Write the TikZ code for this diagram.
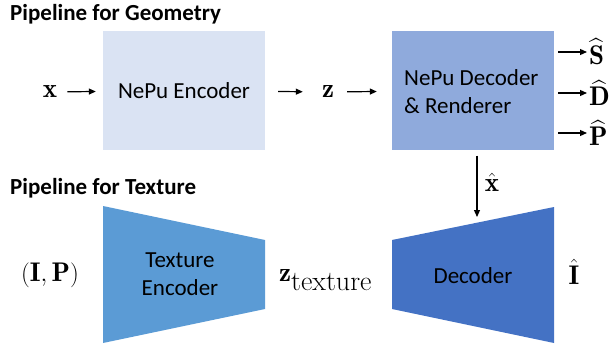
\documentclass[tikz,border=0pt]{standalone}
\usepackage{fontspec}
\usepackage{amsmath}
\setsansfont{Carlito}
\usetikzlibrary{arrows.meta}

\definecolor{encfill}{HTML}{DAE3F3}
\definecolor{decfill}{HTML}{8FAADC}
\definecolor{texenc}{HTML}{5B9BD5}
\definecolor{texdec}{HTML}{4472C4}

\tikzset{
  title/.style={font=\sffamily\bfseries\fontsize{23}{27}\selectfont, anchor=base west, inner sep=0pt},
  blockbox/.style={minimum width=162pt, minimum height=118pt, inner sep=0pt, draw=none},
  blocktext/.style={font=\sffamily\fontsize{23}{28}\selectfont, inner sep=0pt},
  sym/.style={font=\fontsize{27}{32}\selectfont, inner sep=0pt},
  arr/.style={-{Triangle[length=7pt,width=6pt]}, line width=1.2pt},
}

\begin{document}
\begin{tikzpicture}[x=1pt,y=-1pt]
\useasboundingbox (0,0) rectangle (615,345);

% geometry pipeline
\node[title] (tgeo) at (10,21) {Pipeline for Geometry};
\node[blockbox, fill=encfill] (enc) at (184,90.5) {};
\node[blocktext] (enctxt) at (enc.center) {NePu Encoder};
\node[blockbox, fill=decfill] (dec) at (473,90.5) {};
\node[blocktext, align=left, anchor=west] (dectxt) at (404,92) {NePu Decoder\\ \& Renderer};

\node[sym] (x) at (50,92) {$\mathbf{x}$};
\node[sym] (z) at (328,92) {$\mathbf{z}$};

\draw[arr, shorten <=10pt, shorten >=7pt] (x) -- (enc);
\draw[arr, shorten <=13pt, shorten >=19pt] (enc) -- (z);
\draw[arr, shorten <=13pt, shorten >=15pt] (z) -- (dec);

\node[sym, anchor=west] (S) at (589,52) {$\widehat{\mathbf{S}}$};
\node[sym, anchor=west] (D) at (589,93) {$\widehat{\mathbf{D}}$};
\node[sym, anchor=west] (P) at (589,133) {$\widehat{\mathbf{P}}$};
\draw[arr, shorten <=4pt, shorten >=2pt] (S -| dec.east) -- (S.west);
\draw[arr, shorten <=4pt, shorten >=2pt] (D -| dec.east) -- (D.west);
\draw[arr, shorten <=4pt, shorten >=2pt] (P -| dec.east) -- (P.west);

% texture pipeline
\node[title] (ttex) at (10,194) {Pipeline for Texture};

\fill[texenc] (103,206) -- (265,240) -- (265,309) -- (103,343) -- cycle;
\node[blocktext, align=center] (tenc) at (180,274) {Texture\\Encoder};

\fill[texdec] (392,240) -- (554,207) -- (554,343) -- (392,309) -- cycle;
\node[blocktext] (tdec) at (473,276) {Decoder};

\node[sym] (ip) at (50,275) {$(\mathbf{I},\mathbf{P})$};
\node[sym, anchor=west] (zt) at (279,280) {$\mathbf{z}_{\text{\fontsize{28}{32}\selectfont texture}}$};
\node[sym] (ih) at (574,272) {$\hat{\mathbf{I}}$};

\coordinate (tip) at (477,217);
\node[sym] (xh) at (492,182) {$\hat{\mathbf{x}}$};
\draw[arr, shorten <=6pt] (dec.south -| tip) -- (tip);
\end{tikzpicture}
\end{document}
